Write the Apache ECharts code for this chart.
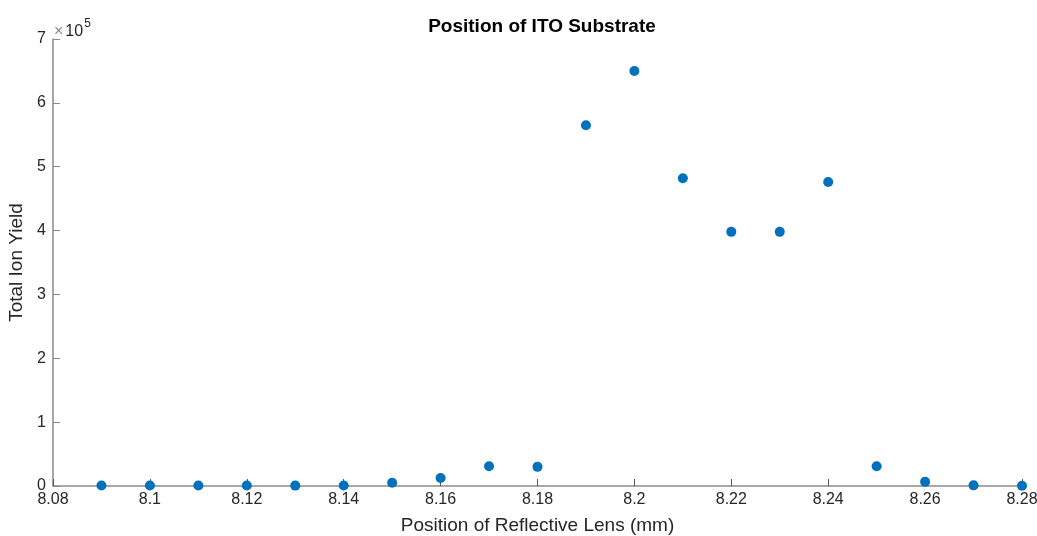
<!DOCTYPE html>
<html>
<head>
<meta charset="utf-8">
<script src="https://cdn.jsdelivr.net/npm/echarts@6/dist/echarts.min.js"></script>
<style>
    html, body { margin: 0; padding: 0; background: #fff; }
    #chart { width: 1037px; height: 536px; }
</style>
</head>
<body>
<div id="chart"></div>
<script>
    // lens positions (mm)
    const positions = [8.09, 8.10, 8.11, 8.12, 8.13, 8.14, 8.15, 8.16, 8.17, 8.18,
        8.19, 8.20, 8.21, 8.22, 8.23, 8.24, 8.25, 8.26, 8.27, 8.28]
    // total ion yield
    const ionYield = [800, 900, 700, 800, 600, 700, 5000, 12500, 31000, 30000,
        565000, 650000, 482000, 398000, 398000, 476000, 31000, 6500, 1000, 500]
    const yScale = 1e5

    const axisGray = '#8a8a8a'
    const textGray = '#262626'
    const font = 'Liberation Sans, Arial, Helvetica, sans-serif'

    let myChart = echarts.init(document.getElementById('chart'))

    let points = positions.map((p, i) => [p, ionYield[i]])

    let option = {
        backgroundColor: '#fff',
        animation: false,
        title: {
            text: 'Position of ITO Substrate',
            left: 537,
            textAlign: 'center',
            top: 12,
            textStyle: {
                fontFamily: font,
                fontSize: 19,
                fontWeight: 'bold',
                color: '#000'
            }
        },
        grid: {
            left: 53,
            right: 15,
            top: 39,
            bottom: 50,
            containLabel: false,
            outerBoundsMode: 'none'
        },
        xAxis: {
            type: 'value',
            min: 8.08,
            max: 8.28,
            interval: 0.02,
            name: 'Position of Reflective Lens (mm)',
            nameLocation: 'middle',
            nameGap: 30,
            nameTextStyle: { fontFamily: font, fontSize: 19, color: textGray },
            axisLine: { show: true, lineStyle: { color: axisGray, width: 1.5 } },
            axisTick: { show: true, inside: true, length: 7, lineStyle: { color: '#555' } },
            splitLine: { show: false },
            axisLabel: {
                fontFamily: font,
                fontSize: 16,
                color: textGray,
                margin: 6,
                formatter: function (v) {
                    return String(Math.round(v * 100) / 100)
                }
            }
        },
        yAxis: {
            type: 'value',
            min: 0,
            max: 7e5,
            interval: 1e5,
            name: 'Total Ion Yield',
            nameLocation: 'middle',
            nameGap: 22,
            nameTextStyle: { fontFamily: font, fontSize: 19, color: textGray },
            axisLine: { show: true, lineStyle: { color: axisGray, width: 1.5 } },
            axisTick: { show: true, inside: true, length: 7, lineStyle: { color: axisGray } },
            splitLine: { show: false },
            axisLabel: {
                fontFamily: font,
                fontSize: 16,
                color: textGray,
                margin: 7,
                formatter: function (v) {
                    return String(Math.round(v / yScale))
                }
            }
        },
        graphic: [{
            type: 'text',
            left: 54,
            top: 18,
            style: {
                text: '{x|×}{b|10}{s|5}',
                rich: {
                    x: { fontFamily: font, fontSize: 16, fill: axisGray, verticalAlign: 'bottom', padding: [6, 0, 0, 0] },
                    b: { fontFamily: font, fontSize: 16, fill: textGray, padding: [6, 0, 0, 2], verticalAlign: 'bottom' },
                    s: { fontFamily: font, fontSize: 12, fill: textGray, verticalAlign: 'top', padding: [0, 0, 0, 1] }
                }
            }
        }],
        series: [{
            type: 'scatter',
            data: points,
            symbol: 'circle',
            symbolSize: 10,
            itemStyle: { color: '#0072BD', opacity: 1 }
        }]
    }
    myChart.setOption(option)
</script>
</body>
</html>
